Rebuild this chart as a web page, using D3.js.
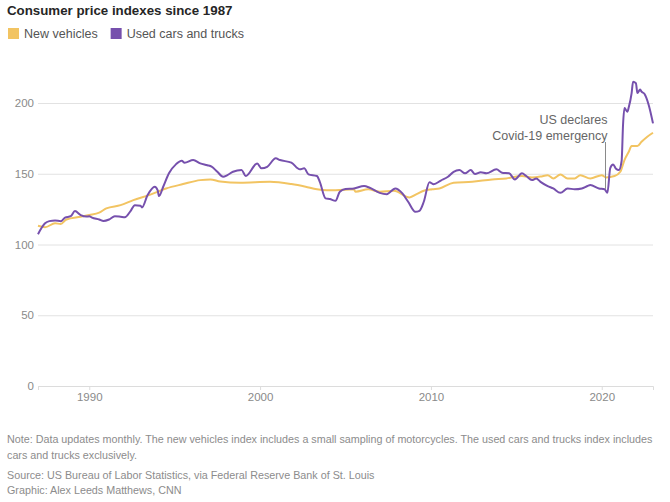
<!DOCTYPE html>
<html>
<head>
<meta charset="utf-8">
<script src="https://cdn.jsdelivr.net/npm/d3@7"></script>
<style>
  body { margin: 0; background: #fff; font-family: "Liberation Sans", Arial, sans-serif; }
  .tick text { fill: #8a8a8a; font-size: 11.5px; }
</style>
</head>
<body>
<script>
// Monthly CPI readings (1982-84 = 100)
const usedMonths = [
  "1987-01","1987-06","1987-09","1988-01","1988-05","1988-08","1988-12","1989-03","1989-07","1989-11",
  "1990-01","1990-03","1990-08","1990-11","1991-03","1991-07","1991-11","1992-02","1992-06","1992-09",
  "1993-01","1993-02","1993-06","1993-11","1994-01","1994-02","1994-05","1994-09","1995-02","1995-06",
  "1995-08","1996-02","1996-07","1996-12","1997-03","1997-07","1997-11","1998-02","1998-06","1998-12",
  "1999-03","1999-11","2000-02","2000-06","2000-12","2001-03","2001-11","2002-05","2002-08","2002-11",
  "2003-05","2003-07","2003-11","2004-02","2004-06","2004-09","2005-01","2005-07","2006-02","2006-06",
  "2007-01","2007-06","2007-12","2008-05","2008-09","2009-02","2009-05","2009-08","2009-12","2010-03",
  "2010-08","2011-01","2011-05","2011-09","2012-01","2012-05","2012-08","2012-12","2013-04","2013-11",
  "2014-03","2014-08","2014-12","2015-05","2015-08","2015-12","2016-03","2016-06","2016-11","2017-03",
  "2017-08","2018-01","2018-06","2018-11","2019-03","2019-05","2019-11","2020-03","2020-05","2020-07",
  "2020-09","2020-11","2021-01","2021-03","2021-04","2021-05","2021-07","2021-08","2021-10","2021-11",
  "2022-01","2022-02","2022-04","2022-05","2022-07","2022-10","2023-01"
];
const usedValues = [
  107.3,115,116.5,117,116.5,119,120,123.6,120.8,119.7,
  120,119,117.7,116.6,117.7,120,119.6,119.2,123.6,127.8,
  127.4,126.2,134.9,140.8,138.4,134.2,140.8,150.3,156.8,159.2,
  157.8,159.7,157.3,156,155,151.4,147.9,149,151.4,152.6,
  148.4,157.3,153.8,154.9,160.9,159.7,157.8,153.1,153.8,149.6,
  148.4,144.3,132.6,132.1,130.9,137.3,139.2,139.6,141.3,140.1,
  136.5,135.6,139.6,136.1,130.2,123.1,123.8,130.2,144,142.6,
  145.2,147.9,151.4,152.6,150.3,152.6,149.8,151,150.3,153.1,
  150.7,150.3,146,150.3,148.4,145.5,146.7,144.3,141.3,139.6,
  136.5,139.6,139,139.6,141.3,142,139.6,139,136.5,154,
  156.5,153.5,152.6,159,185,196.5,193.8,197,207,215,
  214,207,209.5,208,206.5,198.6,185.6
];

const newMonths = [
  "1987-01","1987-06","1988-01","1988-05","1988-09","1989-07","1990-01","1990-08","1991-01","1991-11",
  "1992-08","1993-07","1994-07","1995-07","1996-07","1997-02","1997-09","1998-11","2000-08","2001-11",
  "2002-09","2003-05","2003-12","2004-06","2005-07","2005-08","2006-05","2007-01","2007-11","2008-10",
  "2009-03","2009-08","2010-02","2010-07","2011-05","2012-06","2013-08","2014-06","2015-05","2015-12",
  "2016-06","2016-11","2017-03","2017-08","2018-01","2018-06","2018-10","2019-05","2020-01","2020-04",
  "2020-10","2021-02","2021-05","2021-08","2021-10","2022-02","2022-05","2022-09","2023-01"
];
const newValues = [
  113.2,112.2,115,114.5,117.7,119.6,120.8,122.5,125.5,127.8,
  131.4,134.9,139.6,142.7,145.5,146,144.5,143.6,144.3,142.7,
  140.8,139,138.4,138.4,139,137.3,139,137.3,138,133.3,
  135.6,138,139,139.6,143.6,144.3,146,146.7,148.4,147.4,
  148,149,146.7,149.5,146.7,146.7,149,146.7,149,147.4,
  148.4,151.4,159.7,165.5,169.6,169.6,172.6,176.2,179
];

const yTicks = [0, 50, 100, 150, 200];
const xTickYears = [1990, 2000, 2010, 2020];

const seriesNames = ["New vehicles", "Used cars and trucks"];
const seriesColors = ["#f2c462", "#7650ad"];

const noteLines = [
  "Note: Data updates monthly. The new vehicles index includes a small sampling of motorcycles. The used cars and trucks index includes",
  "cars and trucks exclusively."
];
const creditLines = [
  "Source: US Bureau of Labor Statistics, via Federal Reserve Bank of St. Louis",
  "Graphic: Alex Leeds Matthews, CNN"
];
const covidMonth = "2020-03";
const covidLabel = ["US declares", "Covid-19 emergency"];

const width = 670, height = 502;
const margin = { left: 38, right: 17, top: 60, bottom: 116 };
const parse = d3.timeParse("%Y-%m");

const series = [
  { name: seriesNames[0], color: seriesColors[0], points: newMonths.map((m, i) => ({ date: parse(m), value: newValues[i] })) },
  { name: seriesNames[1], color: seriesColors[1], points: usedMonths.map((m, i) => ({ date: parse(m), value: usedValues[i] })) }
];

const x = d3.scaleTime()
  .domain([parse("1987-01"), parse("2023-01")])
  .range([margin.left, width - margin.right]);
const y = d3.scaleLinear()
  .domain([0, 200])
  .range([height - margin.bottom, 103]);

const svg = d3.select("body").append("svg")
  .attr("width", width)
  .attr("height", height);

svg.append("text")
  .attr("x", 7).attr("y", 15)
  .attr("font-size", 13.3).attr("font-weight", "bold").attr("fill", "#262626")
  .text("Consumer price indexes since 1987");

// legend
let lx = 8;
series.forEach(s => {
  svg.append("rect").attr("x", lx).attr("y", 28).attr("width", 11).attr("height", 11).attr("fill", s.color);
  const t = svg.append("text").attr("x", lx + 16).attr("y", 38)
    .attr("font-size", 12.5).attr("fill", "#555").text(s.name);
  lx += 16 + t.node().getComputedTextLength() + 13;
});

// y grid + labels
const yAxis = svg.append("g")
  .attr("transform", `translate(${margin.left},0)`)
  .call(d3.axisLeft(y).tickValues(yTicks).tickSize(-(width - margin.left - margin.right)).tickPadding(4));
yAxis.select(".domain").remove();
yAxis.selectAll(".tick line").attr("stroke", "#e2e2e2");

// x axis
const xAxis = svg.append("g")
  .attr("transform", `translate(0,${height - margin.bottom})`)
  .call(d3.axisBottom(x)
    .tickValues(xTickYears.map(yr => new Date(yr, 0, 1)))
    .tickFormat(d3.timeFormat("%Y"))
    .tickSize(4).tickSizeOuter(4).tickPadding(3));
xAxis.select(".domain").attr("stroke", "#dcdcdc");
xAxis.selectAll(".tick line").attr("stroke", "#dcdcdc");

const line = d3.line()
  .x(d => x(d.date))
  .y(d => y(d.value))
  .curve(d3.curveMonotoneX);

series.forEach(s => {
  svg.append("path")
    .attr("d", line(s.points))
    .attr("fill", "none")
    .attr("stroke", s.color)
    .attr("stroke-width", 2)
    .attr("stroke-linejoin", "round");
});

// covid annotation
const cx = Math.round(x(parse(covidMonth))) + 0.5;
svg.append("line")
  .attr("x1", cx).attr("x2", cx)
  .attr("y1", 142).attr("y2", y(140) + 1)
  .attr("stroke", "#8a8a8a").attr("stroke-width", 1);
covidLabel.forEach((t, i) => {
  svg.append("text")
    .attr("x", cx + 2).attr("y", 124 + i * 16)
    .attr("text-anchor", "end")
    .attr("font-size", 12.5).attr("fill", "#666")
    .text(t);
});

// footer
const foot = svg.append("g").attr("font-size", 10.75).attr("fill", "#8c8c8c");
noteLines.forEach((t, i) => {
  foot.append("text").attr("x", 7).attr("y", 443 + i * 16).text(t);
});
creditLines.forEach((t, i) => {
  foot.append("text").attr("x", 7).attr("y", 479 + i * 15).text(t);
});
</script>
</body>
</html>
